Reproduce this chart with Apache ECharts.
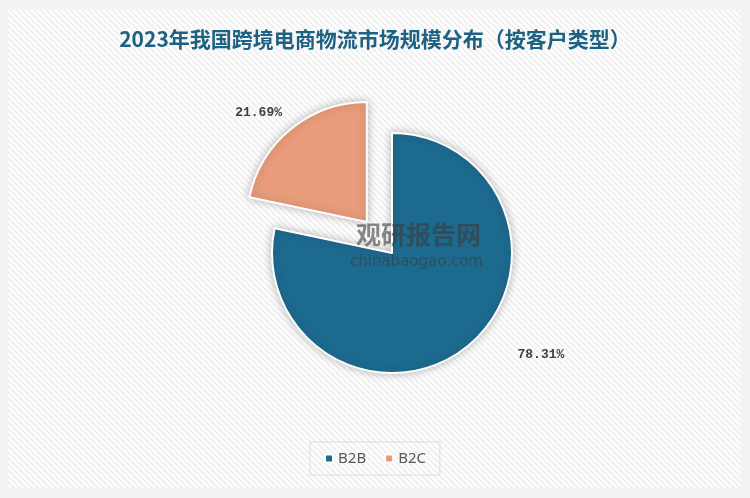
<!DOCTYPE html>
<html>
<head>
<meta charset="utf-8">
<script src="https://cdn.jsdelivr.net/npm/echarts@6/dist/echarts.min.js"></script>
<style>html,body{margin:0;padding:0;background:#f3f3f3;}#c{width:750px;height:498px;}</style>
</head>
<body>
<div id="c"></div>
<script>
const titleText = '2023年我国跨境电商物流市场规模分布（按客户类型）';
const categories = ['B2B', 'B2C'];
const values = [78.31, 21.69];
const colors = ['#1d6a8f', '#e89c7b'];

// striped background pattern
const pc = document.createElement('canvas');
pc.width = 6; pc.height = 6;
const pctx = pc.getContext('2d');
pctx.fillStyle = '#fdfdfd';
pctx.fillRect(0, 0, 6, 6);
pctx.strokeStyle = '#eeeeee';
pctx.lineWidth = 1.6;
for (let k = -6; k <= 12; k += 6) {
  pctx.beginPath();
  pctx.moveTo(k, 0);
  pctx.lineTo(k + 6, 6);
  pctx.stroke();
}

const chart = echarts.init(document.getElementById('c'));
const labelLines = [{length: 11, length2: 43}, {length: 21, length2: -4}];
chart.setOption({
  backgroundColor: '#f3f3f3',
  graphic: [
    {type: 'rect', z: -10, shape: {x: 8, y: 10, width: 733, height: 478},
     style: {fill: {image: pc, repeat: 'repeat'}}},
    {type: 'text', z: 100, left: 356, top: 222,
     style: {text: '观研报告网', font: 'bold 25px "Noto Sans CJK SC"', fill: 'rgba(60,60,60,0.6)'}},
    {type: 'text', z: 100, left: 350, top: 255,
     style: {text: 'chinabaogao.com', font: '15px "DejaVu Sans"', fill: 'rgba(60,60,60,0.6)'}}
  ],
  title: {
    text: titleText,
    left: 'center',
    top: 24,
    textStyle: {fontFamily: '"Noto Sans CJK SC"', fontSize: 21, fontWeight: 'bold', color: '#1d6283'}
  },
  legend: {
    data: categories,
    left: 'center',
    top: 442,
    icon: 'rect',
    itemWidth: 8,
    itemHeight: 8,
    itemGap: 18,
    padding: [9, 14],
    borderColor: '#dcdcdc',
    borderWidth: 1,
    textStyle: {fontSize: 15, color: '#595959', fontFamily: '"Noto Sans"'}
  },
  series: [{
    type: 'pie',
    center: [392, 253],
    radius: [0, 120],
    startAngle: 90,
    clockwise: true,
    selectedMode: 'single',
    selectedOffset: 40,
    avoidLabelOverlap: false,
    itemStyle: {borderColor: '#ffffff', borderWidth: 2, shadowBlur: 8, shadowColor: 'rgba(0,0,0,0.25)'},
    label: {
      show: true,
      position: 'outside',
      distanceToLabelLine: 0,
      formatter: p => p.value.toFixed(2) + '%',
      fontFamily: '"Liberation Mono"',
      fontWeight: 'bold',
      fontSize: 13,
      color: '#404040'
    },
    labelLine: {show: false},
    emphasis: {disabled: true},
    data: categories.map((c, i) => ({
      name: c,
      value: values[i],
      selected: i === 1,
      itemStyle: {color: colors[i]},
      labelLine: {show: false, length: labelLines[i].length, length2: labelLines[i].length2}
    }))
  }]
});
</script>
</body>
</html>
